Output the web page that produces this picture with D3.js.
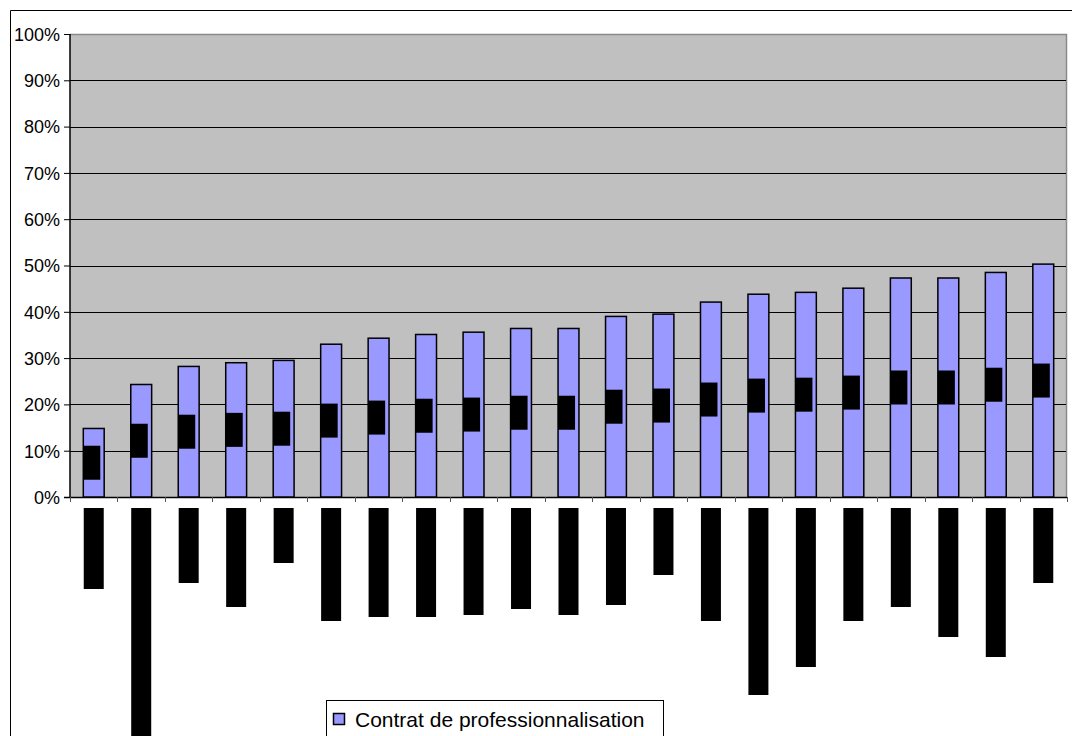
<!DOCTYPE html>
<html><head><meta charset="utf-8">
<script src="https://cdn.jsdelivr.net/npm/d3@7/dist/d3.min.js"></script>
<style>body{margin:0;background:#fff}svg{display:block}</style>
</head><body>
<svg id="c" width="1072" height="736"></svg>
<script>
// ---- data ----
const categories = d3.range(1, 22).map(i => "C" + i);
const values = [14.8, 24.3, 28.2, 29.0, 29.5, 33.0, 34.3, 35.1, 35.6, 36.4, 36.4, 39.0, 39.5, 42.1, 43.8, 44.2, 45.1, 47.3, 47.3, 48.5, 50.3];
// lengths (px) of the illegible rotated category labels under the axis
const labelLengths = [81, 240, 75, 99, 55, 113, 109, 109, 107, 101, 107, 97, 67, 113, 187, 159, 113, 99, 129, 149, 75];
const yTicks = [0, 10, 20, 30, 40, 50, 60, 70, 80, 90, 100];
const seriesName = "Contrat de professionnalisation";

const svg = d3.select("#c");
const L = 70, R = 1067, T = 34, B = 497;
const x = d3.scaleBand().domain(categories).range([L, R]).paddingInner(0.56).paddingOuter(0.28);
const xb = d3.scaleBand().domain(categories).range([L, R]);
const y = d3.scaleLinear().domain([0, 100]).range([B, T]);

// outer chart frame
svg.append("path").attr("d", `M10.5,740 V10.5 H1080`).attr("fill", "none").attr("stroke", "#000").attr("stroke-width", 1);

// plot area
svg.append("rect").attr("x", L).attr("y", T).attr("width", R - L).attr("height", B - T).attr("fill", "#C0C0C0");
svg.append("path").attr("d", `M${L},${T + 0.5} H${R - 0.5} V${B}`).attr("fill", "none").attr("stroke", "#8a8a8a").attr("stroke-width", 1.5);

// gridlines
svg.append("g").selectAll("line").data(yTicks.filter(d => d > 0)).join("line")
  .attr("x1", L).attr("x2", R - 1).attr("y1", d => Math.round(y(d)) + 0.5).attr("y2", d => Math.round(y(d)) + 0.5)
  .attr("stroke", d => d === 100 ? "#8a8a8a" : "#000").attr("stroke-width", 1);

// y axis
const yAxis = d3.axisLeft(y).tickValues(yTicks).tickFormat(d => d + "%").tickSize(6).tickPadding(4);
const gy = svg.append("g").attr("transform", `translate(${L},0)`).call(yAxis);
gy.select(".domain").attr("stroke", "#000").attr("stroke-width", 1.5).attr("d", `M0,${T}V${B}`);
gy.selectAll(".tick line").attr("stroke", "#000");
gy.selectAll(".tick text").attr("font-family", "Liberation Sans, Arial, sans-serif").attr("font-size", 18).attr("fill", "#000").attr("dy", "0.35em");

// x axis line + ticks at category boundaries
svg.append("line").attr("x1", L - 6).attr("x2", R).attr("y1", B + 0.5).attr("y2", B + 0.5).attr("stroke", "#000").attr("stroke-width", 1.5);
svg.append("g").selectAll("line").data(categories).join("line")
  .attr("x1", d => Math.round(xb(d) + xb.bandwidth()) + 0.5).attr("x2", d => Math.round(xb(d) + xb.bandwidth()) + 0.5)
  .attr("y1", B).attr("y2", B + 5).attr("stroke", "#555");
svg.append("line").attr("x1", L + 0.5).attr("x2", L + 0.5).attr("y1", B).attr("y2", B + 5).attr("stroke", "#555");

// bars
svg.append("g").selectAll("rect").data(values).join("rect")
  .attr("x", (d, i) => x(categories[i])).attr("width", x.bandwidth())
  .attr("y", d => y(d)).attr("height", d => B - y(d))
  .attr("fill", "#9999FF").attr("stroke", "#000").attr("stroke-width", 1.5);

// data labels (rendered as illegible black rotated blocks in the reference)
const lg = svg.append("g").selectAll("g").data(values).join("g")
  .attr("transform", (d, i) => `translate(${x(categories[i]) + 8.5},${(y(d) + B) / 2})`);
lg.append("rect").attr("x", -8.5).attr("y", -17).attr("width", 17).attr("height", 34).attr("fill", "#000");
lg.append("text").attr("transform", "rotate(-90)").attr("text-anchor", "middle").attr("dy", "0.35em")
  .attr("font-family", "Liberation Sans, Arial, sans-serif").attr("font-size", 11).attr("fill", "#000")
  .text(d => d.toFixed(1).replace(".", ",") + "%");

// category labels (illegible black rotated blocks in the reference)
svg.append("g").selectAll("rect").data(labelLengths).join("rect")
  .attr("x", (d, i) => xb(categories[i]) + xb.bandwidth() / 2 - 10).attr("width", 20)
  .attr("y", 508).attr("height", d => d).attr("fill", "#000");

// legend
const leg = svg.append("g");
leg.append("rect").attr("x", 326.5).attr("y", 700.5).attr("width", 337).attr("height", 50).attr("fill", "#fff").attr("stroke", "#000").attr("stroke-width", 1);
leg.append("rect").attr("x", 333.5).attr("y", 713.5).attr("width", 11).attr("height", 11).attr("fill", "#9999FF").attr("stroke", "#000").attr("stroke-width", 1.5);
leg.append("text").attr("x", 355).attr("y", 727).attr("font-family", "Liberation Sans, Arial, sans-serif").attr("font-size", 21).attr("fill", "#000").text(seriesName);
</script>
</body></html>
